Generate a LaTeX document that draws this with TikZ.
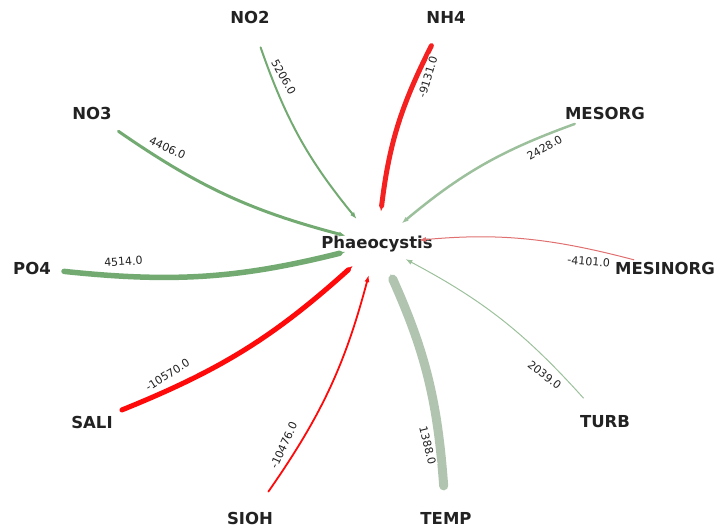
\documentclass[tikz,border=0pt]{standalone}
\usepackage{fontspec}
\setmainfont{DejaVu Sans}
\usetikzlibrary{arrows.meta}

\definecolor{posdark}{HTML}{72AA72}
\definecolor{poslight}{HTML}{9CC09C}
\definecolor{posgrey}{HTML}{B0C4B0}
\definecolor{negred}{HTML}{FF0A0A}
\definecolor{negmid}{HTML}{F52020}
\definecolor{neglight}{HTML}{E07070}
\definecolor{labelgrey}{HTML}{222222}

\begin{document}
\begin{tikzpicture}[x=1pt,y=1pt]

      \useasboundingbox (0,0) rectangle (716,531);

      \begin{scope}[every node/.style={circle, minimum size=64pt, inner sep=0pt,
          text=labelgrey, font=\fontsize{16.5}{18}\selectfont\bfseries}]
        \node (PHAEO)    at (377,287) [label=center:Phaeocystis] {};
        \node (NO2)      at (250,514) [label=center:NO2] {};
        \node (NH4)      at (446,514) [label=center:NH4] {};
        \node (NO3)      at (92,418)  [label=center:NO3] {};
        \node (MESORG)   at (605,418) [label=center:MESORG] {};
        \node (PO4)      at (32,263)  [label=center:PO4] {};
        \node (MESINORG) at (665,263) [label=center:MESINORG] {};
        \node (SALI)     at (92,109)  [label=center:SALI] {};
        \node (TURB)     at (605,109) [label=center:TURB] {};
        \node (SIOH)     at (250,13)  [label=center:SIOH] {};
        \node (TEMP)     at (446,13)  [label=center:TEMP] {};
      \end{scope}

      % curved connectors
      \begin{scope}[every edge/.style={draw, line cap=round, -{Latex[length=7pt,width=5pt]}}]
        \path (NO2)      edge[bend right=10, posdark, line width=2pt]    (PHAEO);
        \path (NH4)      edge[bend right=10, negmid, line width=5pt]     (PHAEO);
        \path (NO3)      edge[bend right=10, posdark, line width=3pt]    (PHAEO);
        \path (MESORG)   edge[bend right=10, poslight, line width=2.5pt] (PHAEO);
        \path (PO4)      edge[bend right=10, posdark, line width=5.5pt]  (PHAEO);
        \path (MESINORG) edge[bend right=10, neglight, line width=1pt, shorten >=10pt] (PHAEO);
        \path (SALI)     edge[bend right=10, negred, line width=5pt]     (PHAEO);
        \path (TURB)     edge[bend right=10, poslight, line width=1pt]   (PHAEO);
        \path (SIOH)     edge[bend right=10, negred, line width=1.8pt]   (PHAEO);
        \path (TEMP)     edge[bend right=10, posgrey, line width=9pt]    (PHAEO);
      \end{scope}

      % weights, on the straight line between the centres
      \begin{scope}[every node/.style={sloped, pos=0.265, fill=white, inner sep=1pt,
          text=labelgrey, font=\fontsize{11}{12}\selectfont}]
        \path (NO2.center)      -- node {5206.0}   (PHAEO.center);
        \path (NH4.center)      -- node {-9131.0}  (PHAEO.center);
        \path (NO3.center)      -- node {4406.0}   (PHAEO.center);
        \path (MESORG.center)   -- node {2428.0}   (PHAEO.center);
        \path (PO4.center)      -- node {4514.0}   (PHAEO.center);
        \path (MESINORG.center) -- node {-4101.0}  (PHAEO.center);
        \path (SALI.center)     -- node {-10570.0} (PHAEO.center);
        \path (TURB.center)     -- node {2039.0}   (PHAEO.center);
        \path (SIOH.center)     -- node {-10476.0} (PHAEO.center);
        \path (TEMP.center)     -- node {1388.0}   (PHAEO.center);
      \end{scope}

    \end{tikzpicture}
\end{document}
